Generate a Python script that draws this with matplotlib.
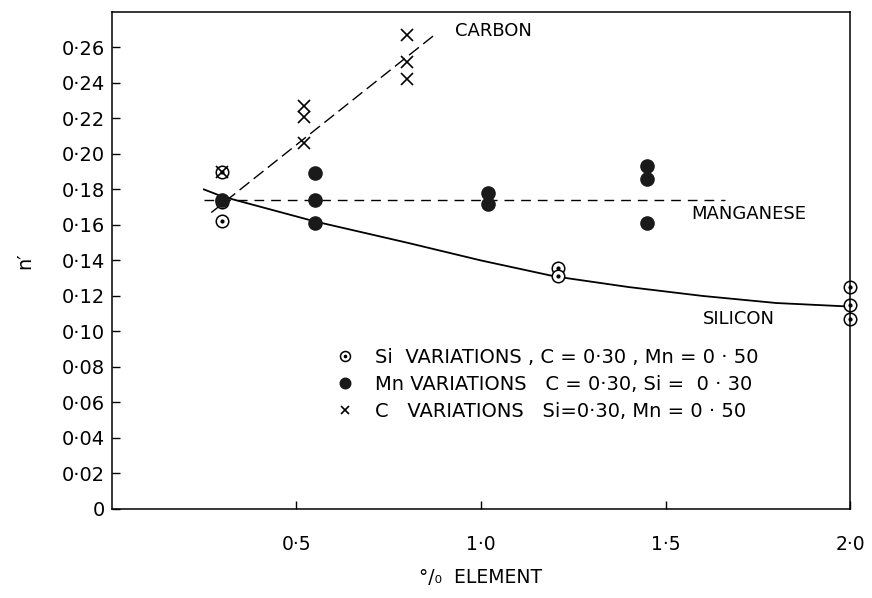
import matplotlib
matplotlib.use("Agg")
import matplotlib.pyplot as plt
from matplotlib.legend_handler import HandlerTuple

plt.rcParams['font.family'] = ['DejaVu Sans']

# Si variations (open circles with a dot)
si_x = [0.30, 0.30, 0.30, 1.21, 1.21, 2.00, 2.00, 2.00]
si_y = [0.190, 0.173, 0.162, 0.136, 0.131, 0.125, 0.115, 0.107]

# Mn variations (filled dots)
mn_x = [0.30, 0.55, 0.55, 0.55, 1.02, 1.02, 1.45, 1.45, 1.45]
mn_y = [0.174, 0.189, 0.174, 0.161, 0.178, 0.172, 0.193, 0.186, 0.161]

# C variations (crosses)
c_x = [0.30, 0.52, 0.52, 0.52, 0.80, 0.80, 0.80]
c_y = [0.190, 0.227, 0.221, 0.206, 0.267, 0.252, 0.242]

# trend lines
carbon_x = [0.27, 0.88]
carbon_y = [0.167, 0.268]
mang_x = [0.25, 1.66]
mang_y = [0.174, 0.174]
silicon_x = [0.25, 0.30, 0.55, 0.80, 1.00, 1.20, 1.40, 1.60, 1.80, 2.00]
silicon_y = [0.180, 0.176, 0.162, 0.150, 0.140, 0.131, 0.125, 0.120, 0.116, 0.114]

yticks = [0, 0.02, 0.04, 0.06, 0.08, 0.10, 0.12, 0.14, 0.16, 0.18, 0.20, 0.22, 0.24, 0.26]
ytick_labels = ['0', '0·02', '0·04', '0·06', '0·08', '0·10', '0·12', '0·14',
                '0·16', '0·18', '0·20', '0·22', '0·24', '0·26']
xticks = [0.5, 1.0, 1.5, 2.0]
xtick_labels = ['0·5', '1·0', '1·5', '2·0']

fig = plt.figure(figsize=(8.72, 5.98), dpi=100)
ax = fig.add_axes([0.128, 0.149, 0.847, 0.831])
for sp in ax.spines.values():
    sp.set_linewidth(1.1)

ax.plot(carbon_x, carbon_y, color='black', lw=1.0, dashes=(9, 4))
ax.plot(mang_x, mang_y, color='black', lw=1.0, dashes=(7, 5))
ax.plot(silicon_x, silicon_y, color='black', lw=1.3)

si_ring, = ax.plot(si_x, si_y, 'o', ms=9, mfc='white', mec='black', mew=1.1,
                   ls='none', clip_on=False)
si_dot, = ax.plot(si_x, si_y, 'o', ms=2, color='black', ls='none', clip_on=False)
mn_pts, = ax.plot(mn_x, mn_y, 'o', ms=9.5, color='#1a1a1a', ls='none')
c_pts, = ax.plot(c_x, c_y, 'x', ms=8, color='black', mew=1.2, ls='none')

ax.text(0.93, 0.269, 'CARBON', fontsize=13, va='center', ha='left')
ax.text(1.57, 0.166, 'MANGANESE', fontsize=13, va='center', ha='left')
ax.text(1.60, 0.107, 'SILICON', fontsize=13, va='center', ha='left')

ax.set_xlim(0, 2.0)
ax.set_ylim(0, 0.28)
ax.set_xticks(xticks)
ax.set_xticklabels(xtick_labels, fontsize=13.5)
ax.set_yticks(yticks)
ax.set_yticklabels(ytick_labels, fontsize=14)
ax.tick_params(axis='both', direction='in', length=6, width=1)
ax.tick_params(axis='x', pad=19)
ax.tick_params(axis='y', pad=5)

ax.set_xlabel('°/₀  ELEMENT', fontsize=13.5, labelpad=10)
ax.set_ylabel('n′', fontsize=14)
ax.yaxis.set_label_coords(-0.105, 0.5)

handles = [(si_ring, si_dot), mn_pts, c_pts]
labels = ['Si  VARIATIONS , C = 0·30 , Mn = 0 · 50',
          'Mn VARIATIONS   C = 0·30, Si =  0 · 30',
          'C   VARIATIONS   Si=0·30, Mn = 0 · 50']
leg = ax.legend(handles, labels, loc='upper left', bbox_to_anchor=(0.277, 0.36),
                frameon=False, fontsize=14, labelspacing=0.42, handlelength=1.2,
                handletextpad=0.9, markerscale=0.8,
                handler_map={tuple: HandlerTuple(ndivide=1, pad=0)})

fig.savefig('out.png', dpi=100)
